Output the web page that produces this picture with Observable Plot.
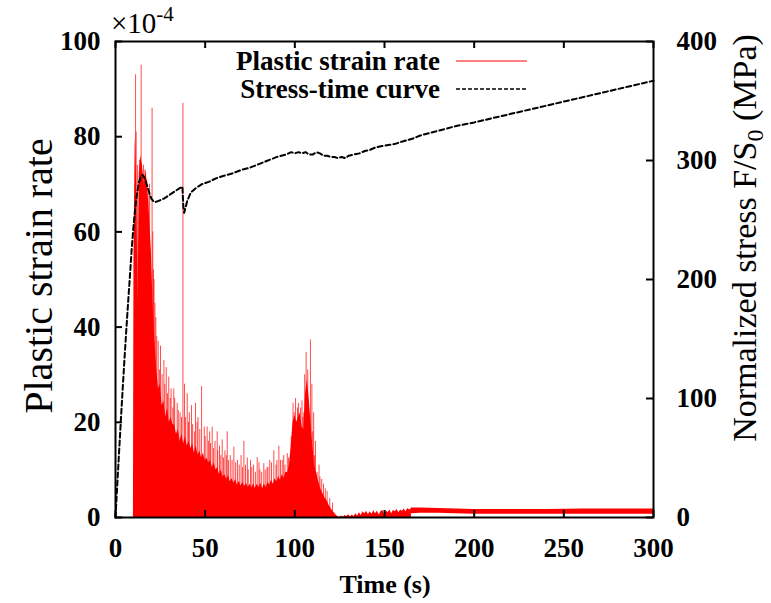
<!DOCTYPE html>
<html>
<head>
<meta charset="utf-8">
<script src="https://cdn.jsdelivr.net/npm/d3@7"></script>
<script src="https://cdn.jsdelivr.net/npm/@observablehq/plot@0.6"></script>
<style>
  html, body { margin: 0; padding: 0; background: #fff; }
  #chart { width: 771px; height: 603px; position: relative; }
</style>
</head>
<body>
<div id="chart"></div>
<script>
// ---- data ----
// plastic strain rate envelope (x1e-4), time in s
const bodyTime = [10,10.3,11,11.8,12.6,13.2,14,15,16,17,18,19,20,21,22,23,24,25,26,27,28,29,30,31,32,33,34,35,36,37,38,39,40,41,42,43,44,45,46,47,48,49,50,51,52,53,54,55,56,57,58,59,60,61,62,63,64,65,66,67,68,69,70,71,72,73,74,75,76,77,78,79,80,81,82,83,84,85,86,87,88,89,90,91,92,93,94,95,96,97,98,99,100,101,102,103,104,105,106,107,108,109,110,111,112,113,114,115,116,117,118,119,120,121,122,123,124,125,126,127,128,129,130,131,132,133,134,135,136,137,138,139,140,141,142,143,144,145,146,147,148,149,150,151,152,153,154,155,156,157,158,159,160,161,162,163,164,165];
const bodyRate = [0,55,80,70,45,72,76,74,70,73,69,63,56,44,37,31,27,28,23.5,24.5,21,23,20,21,19.5,19.5,17.5,18.5,16,17.5,15.5,17,15,16,14.5,15.5,13.5,15,13,14,12.5,13.5,12,12.5,11.5,12,10.5,11.5,10,10.5,9,10,8.5,9,8,8.8,7.5,8.2,7.2,8,6.8,7.6,6.6,7.4,6.5,7.2,6.3,7,6.2,7.1,6.1,7,6.3,7.2,6,7.1,6.2,7.4,6.8,7.8,7,8.2,7.4,8.6,7.8,9,8.2,9.5,9.4,11,15,20,21.5,20,21,22,19,18.5,26,29,25,20,15,11,9.5,8,6.5,5.5,4.8,4,3.5,2.6,2,1.4,1,0.5,0.2,0,0.3,0,0.4,0.2,0.6,0.1,0.5,0.2,0.8,0.3,1.0,0.4,1.2,0.8,1.3,0.6,1.2,0.7,1.4,0.8,1.3,0.5,1.2,1.5,0.6,1.4,1.0,1.6,0.8,1.5,1.2,1.7,1.0,1.6,1.3,1.8,1.2,1.9,1.6,1.9];
// narrow spikes rising above the envelope
const spikeTime = [10.8,11.2,11.5,12.2,13.5,14.3,14.8,15.6,16.4,17.4,18.2,19,20.4,20.8,21.2,21.5,22,22.5,23,23.8,24.5,25.1,26,27,27.5,28.3,29,29.7,30.5,31,32,32.5,33,34.4,35,36,36.8,37.6,38.5,39,40,40.7,41.2,42.4,43,44,44.6,45.5,46,47,48,49.5,50,51.1,51.8,52.5,53,53.9,54.7,55.5,56.7,57,58,58.7,59.5,60.2,61,61.8,62.3,63,64,65,66,67,68,69,70,70.8,71.6,72.5,73.5,74,75.3,76,77,78,79,80,80.5,81.5,82.7,83.5,84.5,85,86,87,88.3,89.5,90,91.1,92,93,93.8,94.5,95.8,96.5,97.5,98,99,99.6,100.4,101.5,102,103.2,104,104.5,105,105.5,106.3,107.2,108.7,109.5,110,110.5,111,111.5,112.4,113.5,114,115,116,117,118,119.5,121];
const spikeRate = [62,93,81,74,75,95,72,74,73,71,68,70,86,60,52,50,45,42,38,37,31,36,30,33,28,31.5,26,29.5,25,27,23,27,25,24,22.5,22,21,87,28,21,26,20,22,23.5,19.5,18,24,20,21,18.5,27.5,19,17,19,16,18,15.5,19,14.5,16,18,14,15,13,16.3,12.5,14,13,18,12,13,12,14.8,11.5,12,11,13,10.5,16,11,12.5,10,12,10.5,11,9.5,12.6,11.5,10,9.5,11.3,10,10.5,10.5,12,11.5,14,11,12,15,12,12,13,11,13.4,12.5,13,17,24,22,25,23,24,23,24.5,21,22,30,34.7,31,37.3,28,18,22,13,16,9.5,11,8.5,8,7,6,5.5,4,3];
// steady plastic strain rate band after ~165 s (low / high edge)
const bandTime = [165,170,180,190,200,220,240,260,280,300];
const bandLow  = [0.8,0.9,0.9,0.8,0.7,0.7,0.7,0.7,0.7,0.7];
const bandHigh = [2.0,2.0,1.9,1.8,1.7,1.7,1.7,1.8,1.8,1.8];
// normalized stress (MPa)
const stressTime = [0,1,2,3,4,5,6,7,8,9,10,11,12,13,14,15,16,17,18,19,20,21,22,24,27,30,33,36,37.3,37.8,38.3,39,40,42,45,48,52,56,60,65,70,75,80,85,90,95,98,100,102,104,106,108,110,112,114,116,118,120,122,124,126,128,130,133,136,139,142,145,148,152,156,160,165,170,180,190,200,220,240,260,280,300];
const stressVal  = [0,28,55,82,108,133,157,180,202,225,244,260,272,281,286,288,286,282,277,272,268,266,265,266,268,271,274,277,278,262,256,260,266,273,277,280,282,285,287,289,292,294,297,300,303,305,307,306,307,306,307,305,305,307,306,304,304,303,303,302,303,302,304,305,306,308,309,311,312,313,314,316,318,321,325,329,332,339,346,353,360,367];
// ticks
const xTicks = [0,50,100,150,200,250,300];
const yTicks = [0,20,40,60,80,100];
const stressTicks = [0,100,200,300,400];
const stressMax = 400, rateMax = 100;

const body = bodyTime.map((t,i)=>({t, v: bodyRate[i]}));
const spikes = spikeTime.map((t,i)=>({t, v: spikeRate[i]}));
const band = bandTime.map((t,i)=>({t, lo: bandLow[i], hi: bandHigh[i]}));
const stress = stressTime.map((t,i)=>({t, s: stressVal[i]}));
const k = rateMax / stressMax;

const serif = "'Liberation Serif', 'Times New Roman', serif";
const plotW = 771 - 115 - 118, plotH = 603 - 41 - 86, tk = 7;

const chart = Plot.plot({
  width: 771, height: 603,
  marginLeft: 115, marginRight: 118, marginTop: 41, marginBottom: 86,
  x: {domain: [0, 300]},
  y: {domain: [0, rateMax]},
  style: {fontFamily: serif, background: "white", color: "black"},
  marks: [
    Plot.areaY(body, {x: "t", y: "v", fill: "#ff0000", curve: "linear"}),
    Plot.ruleX(spikes, {x: "t", y1: 0, y2: "v", stroke: "#ff0000", strokeOpacity: 0.7, strokeWidth: 1}),
    Plot.areaY(band, {x: "t", y1: "lo", y2: "hi", fill: "#ff0000"}),
    Plot.line(stress, {x: "t", y: d => d.s * k, stroke: "black", strokeWidth: 2, strokeDasharray: "5,3"}),
    Plot.tickX(xTicks, {x: d => d, insetTop: plotH - tk, stroke: "black", strokeWidth: 2}),
    Plot.tickX(xTicks, {x: d => d, insetBottom: plotH - tk, stroke: "black", strokeWidth: 2}),
    Plot.tickY(yTicks, {y: d => d, insetRight: plotW - tk, stroke: "black", strokeWidth: 2}),
    Plot.tickY(stressTicks, {y: d => d * k, insetLeft: plotW - tk, stroke: "black", strokeWidth: 2}),
    Plot.frame({stroke: "black", strokeWidth: 2}),
    Plot.axisX({ticks: xTicks, tickSize: 0, tickPadding: 20, fontSize: 27, fontWeight: "bold", label: null}),
    Plot.axisY({anchor: "left", ticks: yTicks, tickSize: 0, tickPadding: 15, fontSize: 27, fontWeight: "bold", label: null}),
    Plot.axisY({anchor: "right", ticks: stressTicks.map(d => d * k), tickFormat: d => String(Math.round(d / k)), tickSize: 0, tickPadding: 23, fontSize: 27, fontWeight: "bold", label: null})
  ]
});
document.getElementById("chart").appendChild(chart);

const svg = d3.select(chart);
const ann = svg.append("g").attr("font-family", serif).attr("fill", "black");

// multiplier
const mult = ann.append("text").attr("x", 111).attr("y", 33).attr("text-anchor", "start").attr("font-size", 29);
mult.append("tspan").text("×10");
mult.append("tspan").attr("dy", -12).attr("font-size", 21).text("-4");

// legend
ann.append("text").attr("x", 440).attr("y", 61).attr("dy", "0.35em").attr("text-anchor", "end")
  .attr("font-size", 27).attr("font-weight", "bold").text("Plastic strain rate");
ann.append("text").attr("x", 440).attr("y", 89).attr("dy", "0.35em").attr("text-anchor", "end")
  .attr("font-size", 27).attr("font-weight", "bold").text("Stress-time curve");
ann.append("line").attr("x1", 456).attr("x2", 527).attr("y1", 61).attr("y2", 61).attr("stroke", "#ff0000").attr("stroke-width", 1);
ann.append("line").attr("x1", 456).attr("x2", 527).attr("y1", 89).attr("y2", 89).attr("stroke", "black").attr("stroke-width", 1.5).attr("stroke-dasharray", "4,2");

// axis titles
ann.append("text").attr("transform", "translate(52,276) rotate(-90)").attr("text-anchor", "middle")
  .attr("font-size", 40).text("Plastic strain rate");
ann.append("text").attr("x", 385).attr("y", 593).attr("text-anchor", "middle")
  .attr("font-size", 26).attr("font-weight", "bold").text("Time (s)");
const rt = ann.append("text").attr("transform", "translate(756,238) rotate(-90)").attr("text-anchor", "middle").attr("font-size", 34);
rt.append("tspan").text("Normalized stress F/S");
rt.append("tspan").attr("dy", 7).attr("font-size", 24).text("0");
rt.append("tspan").attr("dy", -7).text(" (MPa)");
</script>
</body>
</html>
